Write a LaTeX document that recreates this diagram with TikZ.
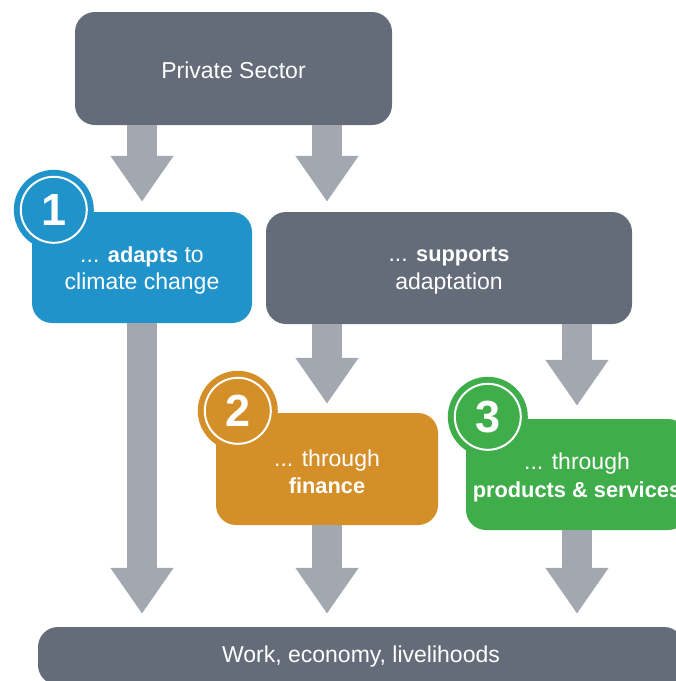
\documentclass[tikz,border=0pt]{standalone}
\usepackage{fontspec}
\setmainfont{Liberation Sans}
\usetikzlibrary{arrows.meta,calc}

\definecolor{slate}{HTML}{646C79}
\definecolor{arrowgray}{HTML}{A3A7B0}
\definecolor{adaptblue}{HTML}{2193CB}
\definecolor{financeorange}{HTML}{D58F29}
\definecolor{productgreen}{HTML}{40AD4B}

% bold key words are set slightly smaller to keep them narrow
\newcommand{\keyword}[1]{{\fontsize{21.8}{27.5}\selectfont\bfseries #1}}

\tikzset{
  box/.style={rounded corners=20pt, inner sep=0pt},
  boxtext/.style={text=white, align=center, inner sep=0pt,
    font=\fontsize{23}{27.5}\selectfont},
  flow/.style={draw=arrowgray, line width=30pt,
    -{Triangle[width=60pt,length=46pt]}},
  badge/.style={circle, minimum size=80pt, inner sep=0pt, text=white,
    font=\fontsize{45}{45}\selectfont\bfseries},
  badgering/.style={draw=white, line width=2pt}
}

\begin{document}
\begin{tikzpicture}[x=1pt,y=-1pt]
  \useasboundingbox (0,0) rectangle (676,681);
  \clip (0,0) rectangle (676,681);

  % boxes
  \node[box, fill=slate, minimum width=317pt, minimum height=113pt]
    (ps) at (233.5,68.5) {};
  \node[box, fill=adaptblue, minimum width=220pt, minimum height=111pt]
    (b1) at (142,267.5) {};
  \node[box, fill=slate, minimum width=366pt, minimum height=112pt]
    (sup) at (449,268) {};
  \node[box, fill=financeorange, minimum width=222pt, minimum height=112pt]
    (b2) at (327,469) {};
  \node[box, fill=productgreen, minimum width=222pt, minimum height=111pt]
    (b3) at (577,474.5) {};
  \node[box, fill=slate, minimum width=646pt, minimum height=58pt]
    (wk) at (361,656) {};

  % box texts
  \node[boxtext] (pst) at ($(ps.center)+(0,2)$) {Private Sector};
  \node[boxtext] (b1t) at ($(b1.center)+(0,3)$)
    {... \keyword{adapts} to\\climate change};
  \node[boxtext] (supt) at ($(sup.center)+(0,3)$)
    {... \keyword{supports}\\adaptation};
  \node[boxtext] (b2t) at ($(b2.center)+(0,3)$)
    {... through\\\keyword{finance}};
  \node[boxtext] (b3t) at ($(b3.center)+(0,3)$)
    {... through\\\keyword{products \& services}};
  \node[boxtext] (wkt) at ($(wk.center)+(0,1)$) {Work, economy, livelihoods};

  % numbered badges on the top-left corners
  \foreach \b/\c/\n in {b1/adaptblue/1, b2/financeorange/2, b3/productgreen/3}{
    \node[badge, fill=\c] (n\n) at ($(\b.north west)+(22,-2)$) {\n};
    \draw[badgering] (n\n.center) circle[radius=33pt];
  }

  % flow arrows
  \draw[flow, shorten >=10pt] (ps.south -| b1) -- (b1.north);
  \draw[flow, shorten >=10pt] (ps.south -| b2) -- (sup.north -| b2);
  \draw[flow, shorten >=9pt] (sup.south -| b2) -- (b2.north);
  \draw[flow, shorten >=13pt] (sup.south -| b3) -- (b3.north);
  \draw[flow, shorten >=13pt] (b1.south) -- (b1.south |- wk.north);
  \draw[flow, shorten >=13pt] (b2.south) -- (b2.south |- wk.north);
  \draw[flow, shorten >=13pt] (b3.south) -- (b3.south |- wk.north);
\end{tikzpicture}
\end{document}
